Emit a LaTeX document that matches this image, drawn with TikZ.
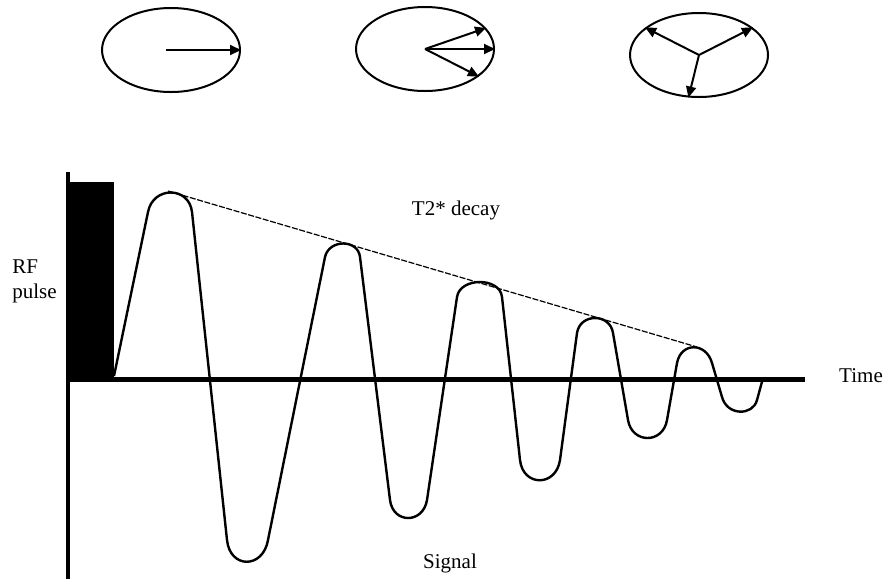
\documentclass[tikz,border=0pt]{standalone}
\usepackage{fontspec}
\setmainfont{Liberation Serif}
\usepackage{tikz}
\usetikzlibrary{positioning,arrows.meta,shapes.geometric}

\begin{document}
\begin{tikzpicture}[x=0.5pt, y=-0.5pt, ring/.style={draw, ellipse, line width=1pt, minimum width=69pt, minimum height=42pt, inner sep=0pt}, vec/.style={-{Triangle[length=5.5pt,width=5pt]}, line width=1pt}, lbl/.style={font=\fontsize{10.5}{12.5}\selectfont, inner sep=0pt}]
\useasboundingbox (0,0) rectangle (886,579);
% spins dephasing
\node[ring](e1) at (171,50){};
\node[ring](e2) at (425,49){};
\node[ring](e3) at (699,55){};
\draw[vec] ([xshift=-2.5pt]e1.center) -- (e1.east);
\draw[vec] (e2.center) -- (e2.19);
\draw[vec] (e2.center) -- (e2.east);
\draw[vec] (e2.center) -- (e2.-27);
\draw[vec] (e3.center) -- (e3.153);
\draw[vec] (e3.center) -- (e3.27);
\draw[vec] (e3.center) -- (e3.256);
% axes and pulse
\fill (67,182) rectangle (114,379);
\draw[line width=2pt] (68,172) -- (68,579);
\draw[line width=2.5pt] (68,379) -- (805,379);
% FID signal
\draw[line width=1.2pt, line join=round] (114,376) -- (148,212)
  .. controls (153,186) and (189,186) .. (192,212) -- (227,540)
  .. controls (230,569) and (263,569) .. (268,540) -- (325,257)
  .. controls (329,239) and (358,239) .. (360,257) -- (390,500)
  .. controls (393,524) and (423,524) .. (427,500) -- (457,297)
  .. controls (460,277) and (500,277) .. (502,297) -- (520,460)
  .. controls (523,487) and (556,487) .. (560,460) -- (577,333)
  .. controls (580,313) and (610,313) .. (613,333) -- (628,420)
  .. controls (632,444) and (663,444) .. (667,420) -- (677,363)
  .. controls (681,342) and (706,342) .. (712,363) -- (722,397)
  .. controls (727,416) and (753,416) .. (757,400) -- (763,378);
% envelope
\coordinate (p1) at (168,191);
\coordinate (p5) at (697,347);
\draw[line width=0.6pt, dash pattern=on 3pt off 0.8pt] (p1) -- (p5);
% labels
\node[lbl](decay) at (456,210){T2* decay};
\node[lbl, align=left, anchor=west](rf) at (12,281){RF\\pulse};
\node[lbl](time) at (861,376){Time};
\node[lbl](signal) at (450,563){Signal};
\end{tikzpicture}
\end{document}
